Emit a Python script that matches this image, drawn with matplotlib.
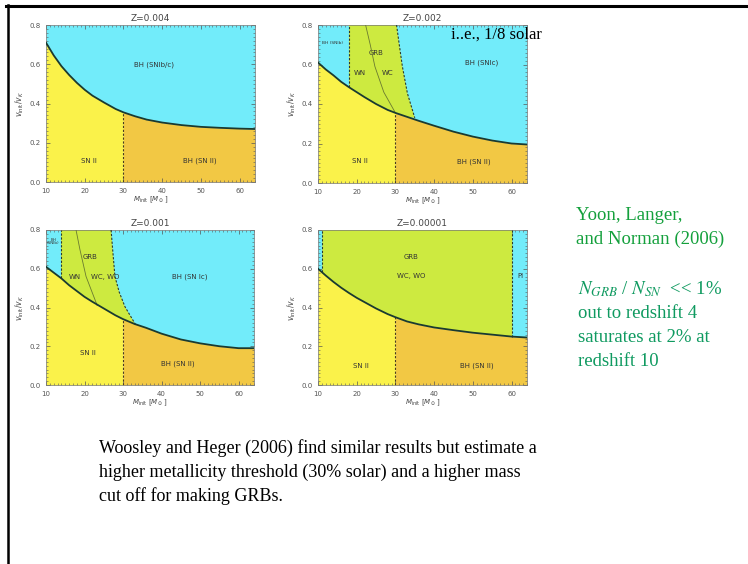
import numpy as np
import matplotlib
matplotlib.use("Agg")
import matplotlib.pyplot as plt
from matplotlib.lines import Line2D
from matplotlib.ticker import MultipleLocator

# colours of the regions
cyan = '#72ecfa'
yellow = '#faf24a'
orange = '#f2c844'
green = '#cdea40'

# separation curves (v_init/v_K vs M_init)
mass = np.array([10, 12, 14, 16, 18, 20, 22, 25, 28, 30, 33, 36, 40, 45, 50, 55, 60, 64])
curve_004 = np.array([0.71, 0.645, 0.59, 0.545, 0.505, 0.47, 0.44, 0.405, 0.372, 0.355, 0.335, 0.318, 0.303, 0.29, 0.281, 0.276, 0.272, 0.27])
curve_002 = np.array([0.61, 0.575, 0.545, 0.512, 0.485, 0.46, 0.435, 0.40, 0.37, 0.355, 0.335, 0.315, 0.29, 0.26, 0.235, 0.215, 0.20, 0.195])
curve_001 = np.array([0.61, 0.58, 0.55, 0.515, 0.485, 0.455, 0.43, 0.395, 0.36, 0.34, 0.315, 0.295, 0.265, 0.235, 0.215, 0.20, 0.19, 0.19])
curve_00001 = np.array([0.60, 0.565, 0.532, 0.502, 0.475, 0.45, 0.428, 0.395, 0.366, 0.35, 0.328, 0.313, 0.297, 0.283, 0.27, 0.26, 0.25, 0.245])

# GRB boundaries (dashed) and WN/WC lines (thin)
grb_left_002 = 18.0
grb_x_002 = np.array([30.3, 31.0, 31.8, 33.1, 35.0])
grb_y_002 = np.array([0.8, 0.70, 0.59, 0.454, 0.33])
wn_x_002 = np.array([22.3, 23.5, 24.7, 27.0, 30.0])
wn_y_002 = np.array([0.8, 0.70, 0.59, 0.46, 0.355])

grb_left_001 = 13.9
grb_x_001 = np.array([26.9, 27.3, 27.9, 29.0, 30.5, 33.3])
grb_y_001 = np.array([0.8, 0.70, 0.56, 0.48, 0.404, 0.31])
wn_x_001 = np.array([17.8, 18.8, 20.4, 23.3])
wn_y_001 = np.array([0.8, 0.70, 0.56, 0.41])

grb_left_00001 = 11.1
pi_left_00001 = 60.2

bh_split = 30
titles = ['Z=0.004', 'Z=0.002', 'Z=0.001', 'Z=0.00001']

fig = plt.figure(figsize=(7.48, 5.64), dpi=100)
W, H = 748, 564

def make_ax(left, top, right, bottom):
    return fig.add_axes([left / W, 1 - bottom / H, (right - left) / W, (bottom - top) / H])

ax1 = make_ax(46, 25, 255, 182)
ax2 = make_ax(318, 25, 527, 183)
ax3 = make_ax(46, 230, 254, 385)
ax4 = make_ax(318, 230, 527, 385)
axes = [ax1, ax2, ax3, ax4]
curves = [curve_004, curve_002, curve_001, curve_00001]

tfont = dict(fontsize=5, color='#333333', ha='center', va='center')

for ax, cv, title in zip(axes, curves, titles):
    ax.set_xlim(10, 64)
    ax.set_ylim(0, 0.8)
    # top region cyan, bottom yellow / orange split at 30
    ax.fill_between(mass, cv, 0.8, color=cyan, lw=0)
    ax.fill_between(mass, 0, cv, where=mass <= bh_split, color=yellow, lw=0)
    ax.fill_between(mass, 0, cv, where=mass >= bh_split, color=orange, lw=0)
    ax.plot(mass, cv, color='#1a3a30', lw=1.3, zorder=5)
    ax.plot([bh_split, bh_split], [0, np.interp(bh_split, mass, cv)], ls=(0, (2, 1.5)), color='#4a3a20', lw=0.8)
    ax.set_title(title, fontsize=6.5, color='#444444', pad=3)
    ax.xaxis.set_major_locator(MultipleLocator(10))
    ax.xaxis.set_minor_locator(MultipleLocator(1))
    ax.yaxis.set_major_locator(MultipleLocator(0.2))
    ax.yaxis.set_minor_locator(MultipleLocator(0.02))
    ax.tick_params(which='both', direction='in', top=True, right=True, labelsize=5, colors='#555555', pad=4)
    ax.tick_params(which='major', length=3, width=0.5)
    ax.tick_params(which='minor', length=1.2, width=0.4)
    ax.set_xticks([10, 20, 30, 40, 50, 60])
    ax.set_xticklabels(['10', '20', '30', '40', '50', '60'])
    ax.set_yticks([0, 0.2, 0.4, 0.6, 0.8])
    ax.set_yticklabels(['0.0', '0.2', '0.4', '0.6', '0.8'])
    for s in ax.spines.values():
        s.set_color('#777777')
        s.set_linewidth(0.5)
    ax.set_xlabel(r'$M_{\rm init}$ [$M_\odot$]', fontsize=5, color='#444444', labelpad=1)
    ax.set_ylabel(r'$v_{\rm init}/v_K$', fontsize=5.5, color='#444444', labelpad=2)

def grb_patch(ax, cv, left, bx, by, color):
    m = (mass > left) & (mass < bx[-1])
    px = np.concatenate([[left], [left], bx, mass[m][::-1]])
    py = np.concatenate([[np.interp(left, mass, cv)], [0.8], by, cv[m][::-1]])
    ax.fill(px, py, color=color, lw=0, zorder=2)
    ax.plot([left, left], [np.interp(left, mass, cv), 0.8], ls=(0, (2, 1.5)), color='#2a3a30', lw=0.8, zorder=4)
    ax.plot(bx, by, ls=(0, (2, 1.5)), color='#2a3a30', lw=0.8, zorder=4)

# Z=0.004
ax1.text(38, 0.6, 'BH (SNIb/c)', **tfont)
ax1.text(21, 0.107, 'SN II', **tfont)
ax1.text(49.8, 0.107, 'BH (SN II)', **tfont)

# Z=0.002
grb_patch(ax2, curve_002, grb_left_002, grb_x_002, grb_y_002, green)
ax2.plot(wn_x_002, wn_y_002, color='#6a7a30', lw=0.6, zorder=4)
ax2.text(13.7, 0.71, 'BH (SNIb)', fontsize=3.2, color='#333333', ha='center', va='center')
ax2.text(25.1, 0.66, 'GRB', **tfont)
ax2.text(20.8, 0.556, 'WN', **tfont)
ax2.text(28.1, 0.556, 'WC', **tfont)
ax2.text(52.2, 0.607, 'BH (SNIc)', **tfont)
ax2.text(20.8, 0.11, 'SN II', **tfont)
ax2.text(50.3, 0.11, 'BH (SN II)', **tfont)

# Z=0.001
grb_patch(ax3, curve_001, grb_left_001, grb_x_001, grb_y_001, green)
ax3.plot(wn_x_001, wn_y_001, color='#6a7a30', lw=0.6, zorder=4)
ax3.text(11.9, 0.74, 'BH\n(SNIb)', fontsize=3, color='#333333', ha='center', va='center', linespacing=0.9)
ax3.text(21.4, 0.662, 'GRB', **tfont)
ax3.text(17.4, 0.559, 'WN', **tfont)
ax3.text(25.3, 0.559, 'WC, WO', **tfont)
ax3.text(47.3, 0.559, 'BH (SN Ic)', **tfont)
ax3.text(21, 0.163, 'SN II', **tfont)
ax3.text(44.3, 0.112, 'BH (SN II)', **tfont)

# Z=0.00001: GRB everywhere above the curve except the two cyan strips
m4 = (mass > grb_left_00001) & (mass < pi_left_00001)
px4 = np.concatenate([[grb_left_00001, grb_left_00001, pi_left_00001, pi_left_00001], mass[m4][::-1]])
py4 = np.concatenate([[np.interp(grb_left_00001, mass, curve_00001), 0.8, 0.8,
                       np.interp(pi_left_00001, mass, curve_00001)], curve_00001[m4][::-1]])
ax4.fill(px4, py4, color=green, lw=0, zorder=2)
for xv in [grb_left_00001, pi_left_00001]:
    ax4.plot([xv, xv], [np.interp(xv, mass, curve_00001), 0.8], ls=(0, (2, 1.5)), color='#2a3a30', lw=0.8, zorder=4)
ax4.text(34.1, 0.66, 'GRB', **tfont)
ax4.text(34.1, 0.563, 'WC, WO', **tfont)
ax4.text(62.2, 0.563, 'PI', **tfont)
ax4.text(21.2, 0.099, 'SN II', **tfont)
ax4.text(51, 0.099, 'BH (SN II)', **tfont)

# slide texts
serif = 'Liberation Serif'
fig.text(451 / W, 1 - 35 / H, 'i..e., 1/8 solar', family=serif, fontsize=12, color='black', va='center')
green_txt = '#14a03c'
teal_txt = '#0f9a60'
fig.text(576 / W, 1 - 215 / H, 'Yoon, Langer,', family=serif, fontsize=13.5, color=green_txt, va='center')
fig.text(576 / W, 1 - 239 / H, 'and Norman (2006)', family=serif, fontsize=13.5, color=green_txt, va='center')
fig.text(578 / W, 1 - 289 / H, r'$N_{GRB}$ / $N_{SN}$  << 1%', family=serif, fontsize=13.5, color=teal_txt, va='center',
         math_fontfamily='stix')
fig.text(578 / W, 1 - 313 / H, 'out to redshift 4', family=serif, fontsize=13.5, color=teal_txt, va='center')
fig.text(578 / W, 1 - 337 / H, 'saturates at 2% at', family=serif, fontsize=13.5, color=teal_txt, va='center')
fig.text(578 / W, 1 - 361 / H, 'redshift 10', family=serif, fontsize=13.5, color=teal_txt, va='center')

bottom_lines = ['Woosley and Heger (2006) find similar results but estimate a',
                'higher metallicity threshold (30% solar) and a higher mass',
                'cut off for making GRBs.']
for i, line in enumerate(bottom_lines):
    fig.text(99 / W, 1 - (448 + 24 * i) / H, line, family=serif, fontsize=13, color='black', va='center')

# slide frame: top and left black rules
fig.add_artist(Line2D([6 / W, 1], [1 - 6 / H, 1 - 6 / H], color='black', lw=2.2))
fig.add_artist(Line2D([8 / W, 8 / W], [0, 1 - 5 / H], color='black', lw=1.8))

fig.savefig('out.png', dpi=100)
